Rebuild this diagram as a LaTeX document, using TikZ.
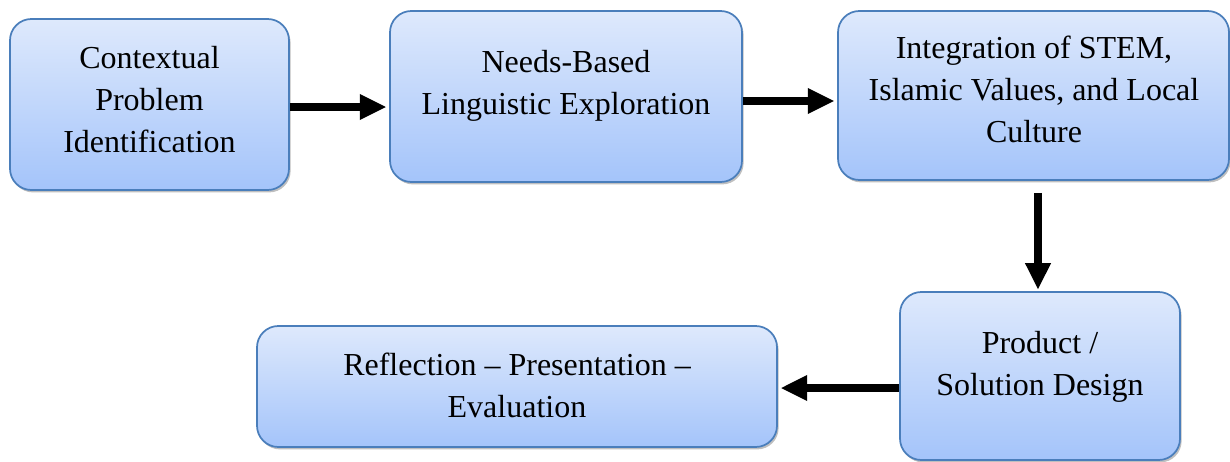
\documentclass[tikz,border=0pt]{standalone}
\usepackage{fontspec}
\setmainfont{Liberation Serif}
\usetikzlibrary{arrows.meta,shadows}
\definecolor{boxtop}{RGB}{222,233,252}
\definecolor{boxbot}{RGB}{164,196,250}
\definecolor{boxline}{RGB}{74,126,187}
\tikzset{
  box/.style={draw=boxline, line width=1.3pt, rounded corners=16pt,
    top color=boxtop, bottom color=boxbot, inner sep=0pt,
    drop shadow={shadow xshift=1.2pt, shadow yshift=-1.8pt, opacity=0.25, fill=black}},
  lbl/.style={anchor=base, align=center, inner sep=0pt,
    font=\fontsize{24}{31.5}\selectfont},
  arr/.style={line width=6.5pt, -{Triangle[length=20pt,width=18pt]}}
}
\begin{document}
\begin{tikzpicture}[x=0.75pt,y=-0.75pt]
\useasboundingbox (0,0) rectangle (1230,461);
\node[box, minimum width=209.25pt, minimum height=128.25pt] (b1) at (149.5,104.5) {};
\node[box, minimum width=264pt, minimum height=128.25pt] (b2) at (566,96.5) {};
\node[box, minimum width=293.25pt, minimum height=126.75pt] (b3) at (1033.5,95.5) {};
\node[box, minimum width=210pt, minimum height=126pt] (b4) at (1040,376) {};
\node[box, minimum width=390pt, minimum height=90.75pt] (b5) at (517,386.5) {};
\node[lbl] (t1) at (149.5,152) {Contextual\\Problem\\Identification};
\node[lbl] (t2) at (566,114) {Needs-Based\\Linguistic Exploration};
\node[lbl] (t3) at (1034,142) {Integration of STEM,\\Islamic Values, and Local\\Culture};
\node[lbl] (t4) at (1040,395) {Product /\\Solution Design};
\node[lbl] (t5) at (517,417) {Reflection – Presentation –\\Evaluation};
\draw[arr] (b1.east |- 0,107) -- ([xshift=-2pt]b2.west |- 0,107);
\draw[arr] (b2.east |- 0,101) -- ([xshift=-2pt]b3.west |- 0,101);
\draw[arr] ([yshift=-9pt]b3.south -| 1038,0) -- ([yshift=1pt]b4.north -| 1038,0);
\draw[arr] (b4.west |- 0,388) -- ([xshift=2pt]b5.east |- 0,388);
\end{tikzpicture}
\end{document}
